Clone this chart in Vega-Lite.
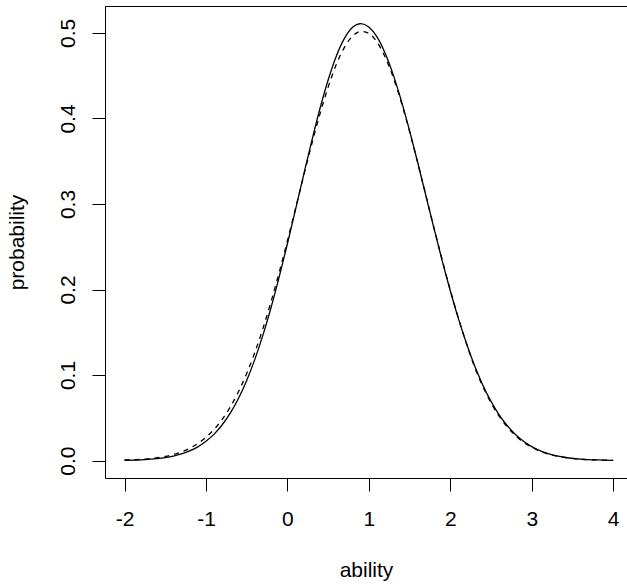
{
  "$schema": "https://vega.github.io/schema/vega-lite/v6.json",
  "autosize": "none",
  "width": 522,
  "height": 472,
  "padding": {"left": 105, "top": 6, "right": 0, "bottom": 107},
  "background": "white",
  "config": {
    "view": {"stroke": null},
    "font": "Liberation Sans",
    "axis": {
      "grid": false,
      "labelFont": "Liberation Sans",
      "labelFontSize": 21,
      "labelColor": "black",
      "titleFont": "Liberation Sans",
      "titleFontSize": 21,
      "titleFontWeight": "normal",
      "titleColor": "black",
      "tickColor": "black",
      "tickSize": 13,
      "tickWidth": 1,
      "domainColor": "black",
      "domainWidth": 1,
      "labelFlush": false,
      "labelOverlap": false
    }
  },
  "datasets": {
    "curves": [
      {"curve": "posterior", "ability": -2.0, "probability": 0.00035},
      {"curve": "posterior", "ability": -1.75, "probability": 0.00117},
      {"curve": "posterior", "ability": -1.5, "probability": 0.00349},
      {"curve": "posterior", "ability": -1.4, "probability": 0.00525},
      {"curve": "posterior", "ability": -1.3, "probability": 0.00774},
      {"curve": "posterior", "ability": -1.2, "probability": 0.01123},
      {"curve": "posterior", "ability": -1.1, "probability": 0.01601},
      {"curve": "posterior", "ability": -1.0, "probability": 0.02245},
      {"curve": "posterior", "ability": -0.9, "probability": 0.03092},
      {"curve": "posterior", "ability": -0.8, "probability": 0.04187},
      {"curve": "posterior", "ability": -0.7, "probability": 0.0557},
      {"curve": "posterior", "ability": -0.6, "probability": 0.0729},
      {"curve": "posterior", "ability": -0.5, "probability": 0.0937},
      {"curve": "posterior", "ability": -0.4, "probability": 0.1183},
      {"curve": "posterior", "ability": -0.3, "probability": 0.1469},
      {"curve": "posterior", "ability": -0.2, "probability": 0.1793},
      {"curve": "posterior", "ability": -0.1, "probability": 0.215},
      {"curve": "posterior", "ability": 0.0, "probability": 0.2535},
      {"curve": "posterior", "ability": 0.1, "probability": 0.2937},
      {"curve": "posterior", "ability": 0.2, "probability": 0.3344},
      {"curve": "posterior", "ability": 0.3, "probability": 0.3742},
      {"curve": "posterior", "ability": 0.4, "probability": 0.4116},
      {"curve": "posterior", "ability": 0.5, "probability": 0.4449},
      {"curve": "posterior", "ability": 0.6, "probability": 0.4727},
      {"curve": "posterior", "ability": 0.7, "probability": 0.4936},
      {"curve": "posterior", "ability": 0.8, "probability": 0.5066},
      {"curve": "posterior", "ability": 0.9, "probability": 0.511},
      {"curve": "posterior", "ability": 1.0, "probability": 0.507},
      {"curve": "posterior", "ability": 1.1, "probability": 0.4953},
      {"curve": "posterior", "ability": 1.2, "probability": 0.4763},
      {"curve": "posterior", "ability": 1.3, "probability": 0.451},
      {"curve": "posterior", "ability": 1.4, "probability": 0.4203},
      {"curve": "posterior", "ability": 1.5, "probability": 0.3857},
      {"curve": "posterior", "ability": 1.6, "probability": 0.3485},
      {"curve": "posterior", "ability": 1.7, "probability": 0.3099},
      {"curve": "posterior", "ability": 1.8, "probability": 0.2714},
      {"curve": "posterior", "ability": 1.9, "probability": 0.2339},
      {"curve": "posterior", "ability": 2.0, "probability": 0.1986},
      {"curve": "posterior", "ability": 2.1, "probability": 0.1659},
      {"curve": "posterior", "ability": 2.2, "probability": 0.1365},
      {"curve": "posterior", "ability": 2.3, "probability": 0.1105},
      {"curve": "posterior", "ability": 2.4, "probability": 0.0881},
      {"curve": "posterior", "ability": 2.5, "probability": 0.0692},
      {"curve": "posterior", "ability": 2.6, "probability": 0.0535},
      {"curve": "posterior", "ability": 2.7, "probability": 0.0407},
      {"curve": "posterior", "ability": 2.8, "probability": 0.0305},
      {"curve": "posterior", "ability": 2.9, "probability": 0.02245},
      {"curve": "posterior", "ability": 3.0, "probability": 0.0163},
      {"curve": "posterior", "ability": 3.1, "probability": 0.01165},
      {"curve": "posterior", "ability": 3.2, "probability": 0.0082},
      {"curve": "posterior", "ability": 3.4, "probability": 0.00387},
      {"curve": "posterior", "ability": 3.6, "probability": 0.00172},
      {"curve": "posterior", "ability": 3.8, "probability": 0.00072},
      {"curve": "posterior", "ability": 4.0, "probability": 0.00028},
      {"curve": "normal", "ability": -2.0, "probability": 0.00059},
      {"curve": "normal", "ability": -1.75, "probability": 0.00178},
      {"curve": "normal", "ability": -1.5, "probability": 0.00488},
      {"curve": "normal", "ability": -1.4, "probability": 0.0071},
      {"curve": "normal", "ability": -1.3, "probability": 0.01017},
      {"curve": "normal", "ability": -1.2, "probability": 0.01434},
      {"curve": "normal", "ability": -1.1, "probability": 0.0199},
      {"curve": "normal", "ability": -1.0, "probability": 0.0272},
      {"curve": "normal", "ability": -0.9, "probability": 0.0365},
      {"curve": "normal", "ability": -0.8, "probability": 0.0483},
      {"curve": "normal", "ability": -0.7, "probability": 0.0629},
      {"curve": "normal", "ability": -0.6, "probability": 0.0807},
      {"curve": "normal", "ability": -0.5, "probability": 0.1019},
      {"curve": "normal", "ability": -0.4, "probability": 0.1265},
      {"curve": "normal", "ability": -0.3, "probability": 0.1546},
      {"curve": "normal", "ability": -0.2, "probability": 0.1861},
      {"curve": "normal", "ability": -0.1, "probability": 0.2204},
      {"curve": "normal", "ability": 0.0, "probability": 0.257},
      {"curve": "normal", "ability": 0.1, "probability": 0.2949},
      {"curve": "normal", "ability": 0.2, "probability": 0.3331},
      {"curve": "normal", "ability": 0.3, "probability": 0.3704},
      {"curve": "normal", "ability": 0.4, "probability": 0.4053},
      {"curve": "normal", "ability": 0.5, "probability": 0.4366},
      {"curve": "normal", "ability": 0.6, "probability": 0.463},
      {"curve": "normal", "ability": 0.7, "probability": 0.4831},
      {"curve": "normal", "ability": 0.8, "probability": 0.4963},
      {"curve": "normal", "ability": 0.9, "probability": 0.5018},
      {"curve": "normal", "ability": 1.0, "probability": 0.4995},
      {"curve": "normal", "ability": 1.1, "probability": 0.4893},
      {"curve": "normal", "ability": 1.2, "probability": 0.4718},
      {"curve": "normal", "ability": 1.3, "probability": 0.4478},
      {"curve": "normal", "ability": 1.4, "probability": 0.4184},
      {"curve": "normal", "ability": 1.5, "probability": 0.3847},
      {"curve": "normal", "ability": 1.6, "probability": 0.3482},
      {"curve": "normal", "ability": 1.7, "probability": 0.3102},
      {"curve": "normal", "ability": 1.8, "probability": 0.272},
      {"curve": "normal", "ability": 1.9, "probability": 0.2348},
      {"curve": "normal", "ability": 2.0, "probability": 0.1995},
      {"curve": "normal", "ability": 2.1, "probability": 0.1665},
      {"curve": "normal", "ability": 2.2, "probability": 0.1365},
      {"curve": "normal", "ability": 2.3, "probability": 0.109},
      {"curve": "normal", "ability": 2.4, "probability": 0.0865},
      {"curve": "normal", "ability": 2.5, "probability": 0.0675},
      {"curve": "normal", "ability": 2.6, "probability": 0.0518},
      {"curve": "normal", "ability": 2.7, "probability": 0.0392},
      {"curve": "normal", "ability": 2.8, "probability": 0.0292},
      {"curve": "normal", "ability": 2.9, "probability": 0.0214},
      {"curve": "normal", "ability": 3.0, "probability": 0.0155},
      {"curve": "normal", "ability": 3.1, "probability": 0.011},
      {"curve": "normal", "ability": 3.2, "probability": 0.0077},
      {"curve": "normal", "ability": 3.4, "probability": 0.0037},
      {"curve": "normal", "ability": 3.6, "probability": 0.00165},
      {"curve": "normal", "ability": 3.8, "probability": 0.0007},
      {"curve": "normal", "ability": 4.0, "probability": 0.00028}
    ]
  },
  "data": {"name": "curves"},
  "layer": [
    {
      "transform": [{"filter": "datum.curve === 'posterior'"}],
      "mark": {"type": "line", "color": "black", "strokeWidth": 1.3, "interpolate": "monotone", "clip": true},
      "encoding": {
        "x": {
          "field": "ability", "type": "quantitative",
          "scale": {"domain": [-2.24, 4.17], "nice": false, "zero": false},
          "axis": {"orient": "bottom", "values": [-2, -1, 0, 1, 2, 3, 4], "labelExpr": "datum.value + ''", "labelPadding": 17, "title": "ability", "titlePadding": 30}
        },
        "y": {
          "field": "probability", "type": "quantitative",
          "scale": {"domain": [-0.0204, 0.5315], "nice": false, "zero": false},
          "axis": {"values": [0, 0.1, 0.2, 0.3, 0.4, 0.5], "format": ".1f", "labelAngle": -90, "labelAlign": "center", "labelBaseline": "alphabetic", "labelPadding": 17.5, "title": "probability", "titleAngle": -90, "titleBaseline": "alphabetic", "titleAlign": "center", "titleX": -81.6, "titleY": 236}
        }
      }
    },
    {
      "transform": [{"filter": "datum.curve === 'normal'"}],
      "mark": {"type": "line", "color": "black", "strokeWidth": 1.3, "strokeDash": [5, 5], "interpolate": "monotone", "clip": true},
      "encoding": {
        "x": {
          "field": "ability", "type": "quantitative",
          "scale": {"domain": [-2.24, 4.17], "nice": false, "zero": false},
          "axis": {"orient": "top", "labels": false, "ticks": false, "domain": true, "title": null}
        },
        "y": {
          "field": "probability", "type": "quantitative",
          "scale": {"domain": [-0.0204, 0.5315], "nice": false, "zero": false},
          "axis": {"values": [0, 0.1, 0.2, 0.3, 0.4, 0.5], "format": ".1f", "labelAngle": -90, "labelAlign": "center", "labelBaseline": "alphabetic", "labelPadding": 17.5, "title": "probability", "titleAngle": -90, "titleBaseline": "alphabetic", "titleAlign": "center", "titleX": -81.6, "titleY": 236}
        }
      }
    }
  ],
  "resolve": {"axis": {"x": "independent"}}
}
